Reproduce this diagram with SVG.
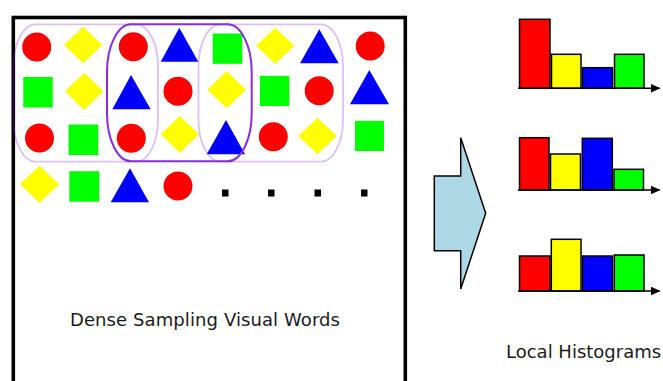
<svg xmlns="http://www.w3.org/2000/svg" width="663" height="381" viewBox="0 0 663 381">
<style>
.r{fill:#ff0000}
.y{fill:#ffff00}
.b{fill:#0000ff}
.g{fill:#00ff00}
.bar{stroke:#000;stroke-width:1.5}
.win{fill:none;stroke:#8a2be2;stroke-width:2}
.winl{fill:none;stroke:#8a2be2;stroke-opacity:0.3;stroke-width:1.8}
.ax{stroke:#000;stroke-width:1.5;fill:none}
.lbl{font-family:"DejaVu Sans",sans-serif;font-size:18px;fill:#1a1a1a}
</style>
<defs>
<marker id="ah" viewBox="0 0 10 10" refX="9" refY="5" markerWidth="10" markerHeight="9" markerUnits="userSpaceOnUse" orient="auto" preserveAspectRatio="none">
<path d="M0,0 L10,5 L0,10 z" fill="#000"/>
</marker>
</defs>
<rect width="663" height="381" fill="#fff"/>
<g id="frame">
<rect x="13.3" y="17.5" width="392" height="400" fill="none" stroke="#000" stroke-width="3.6"/>
</g>
<g id="words">
<circle class="r" cx="36.7" cy="47" r="14.5"/>
<polygon class="y" points="83.2,26.7 102.3,45 83.2,63.3 64,45"/>
<circle class="r" cx="133.3" cy="46.7" r="14.5"/>
<polygon class="b" points="179.3,27.7 198.3,61.7 160.7,61.7"/>
<rect class="g" x="212.7" y="33.5" width="29.6" height="30.3"/>
<polygon class="y" points="275.2,27.7 294.3,45.8 275.2,64 256,45.8"/>
<polygon class="b" points="319.3,29.3 338.7,63.3 300,63.3"/>
<circle class="r" cx="370.2" cy="46" r="14.5"/>
<rect class="g" x="23.3" y="77" width="29.4" height="30.5"/>
<polygon class="y" points="84.2,72.7 103.3,91.3 84.2,110 65,91.3"/>
<polygon class="b" points="131,75 150.7,109.3 112.3,109.3"/>
<circle class="r" cx="178" cy="91.3" r="14.5"/>
<polygon class="y" points="226.7,71 246,89.7 226.7,108.3 207.3,89.7"/>
<rect class="g" x="260" y="75.8" width="29.3" height="30.2"/>
<circle class="r" cx="319.2" cy="90.7" r="14.5"/>
<polygon class="b" points="369.3,70 389,104.3 350,104.3"/>
<circle class="r" cx="39.5" cy="138" r="14.5"/>
<rect class="g" x="68.5" y="124.5" width="29.8" height="30.5"/>
<circle class="r" cx="131.3" cy="138.3" r="14.5"/>
<polygon class="y" points="179.8,116 199,134.3 179.8,152.7 160.7,134.3"/>
<polygon class="b" points="226,120 245,154.3 206.7,154.3"/>
<circle class="r" cx="273.3" cy="136.7" r="14.5"/>
<polygon class="y" points="317.5,117.7 336.7,136 317.5,154.3 298.3,136"/>
<rect class="g" x="355" y="120.8" width="29" height="30.2"/>
<polygon class="y" points="39.5,165.7 59,184.2 39.5,202.7 20,184.2"/>
<rect class="g" x="69.3" y="171.2" width="30" height="30.5"/>
<polygon class="b" points="130,168.3 149,202.3 110.7,202.3"/>
<circle class="r" cx="178" cy="186" r="14.5"/>
<rect x="222" y="189.5" width="6.5" height="7" fill="#000"/>
<rect x="268" y="189.5" width="6.5" height="7" fill="#000"/>
<rect x="314.5" y="189.5" width="6.5" height="7" fill="#000"/>
<rect x="361" y="189.5" width="6.5" height="7" fill="#000"/>
</g>
<g id="windows">
<rect class="winl" x="13.5" y="24.3" width="144.5" height="137.4" rx="22" ry="42"/>
<rect class="winl" x="198.5" y="24.3" width="144.5" height="137.4" rx="22" ry="42"/>
<rect class="win" x="107" y="24.3" width="144.7" height="137" rx="24" ry="48"/>
</g>
<g id="label-words">
<text class="lbl" x="70" y="326" textLength="270" lengthAdjust="spacing">Dense Sampling Visual Words</text>
</g>
<g id="arrow">
<polygon points="434.3,176 460.7,176 460.7,137.7 485.7,213.3 460.7,289 460.7,250.7 434.3,250.7" fill="#add8e6" stroke="#000" stroke-width="1.5" stroke-linejoin="miter"/>
</g>
<g id="hist1">
<rect class="bar r" x="519.5" y="19.3" width="30.5" height="69"/>
<rect class="bar y" x="551.5" y="54.3" width="29.5" height="34"/>
<rect class="bar b" x="582.5" y="67.7" width="30" height="20.6"/>
<rect class="bar g" x="614.5" y="54.3" width="29.5" height="34"/>
<line class="ax" x1="518" y1="88.3" x2="659.5" y2="88.3" marker-end="url(#ah)"/>
</g>
<g id="hist2">
<rect class="bar r" x="519.5" y="137.7" width="29.5" height="52.3"/>
<rect class="bar y" x="550.5" y="154" width="30" height="36"/>
<rect class="bar b" x="582.3" y="138.3" width="30" height="51.7"/>
<rect class="bar g" x="614" y="169.3" width="29.5" height="20.7"/>
<line class="ax" x1="518" y1="190" x2="659.5" y2="190" marker-end="url(#ah)"/>
</g>
<g id="hist3">
<rect class="bar r" x="519.5" y="256" width="30.5" height="35"/>
<rect class="bar y" x="551.3" y="239.3" width="29.7" height="51.7"/>
<rect class="bar b" x="582.5" y="256" width="30" height="35"/>
<rect class="bar g" x="614.3" y="255" width="29.7" height="36"/>
<line class="ax" x1="518" y1="291" x2="659.5" y2="291" marker-end="url(#ah)"/>
</g>
<g id="label-hist">
<text class="lbl" x="506" y="357.7">Local Histograms</text>
</g>
</svg>
